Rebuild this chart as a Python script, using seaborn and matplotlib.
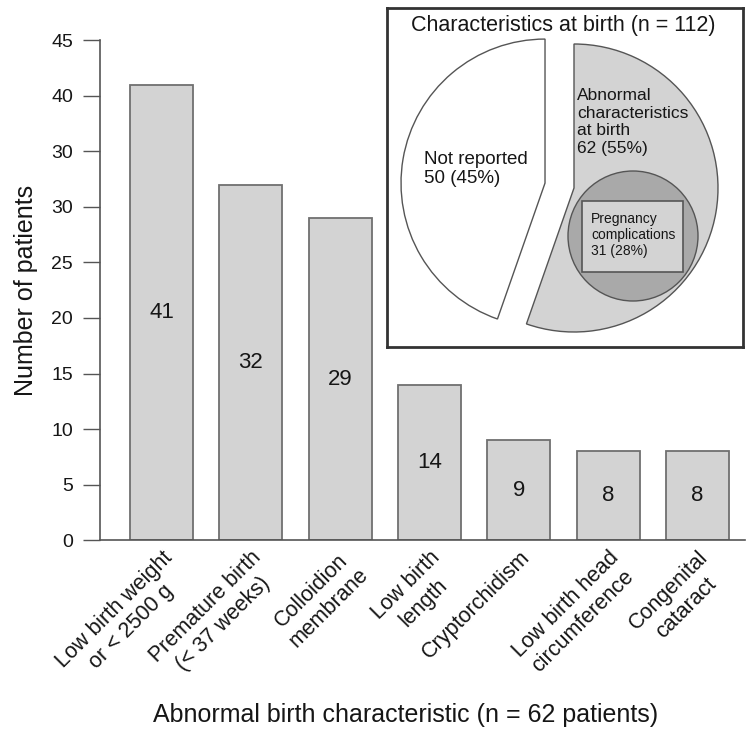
import matplotlib
matplotlib.use('Agg')
import matplotlib.pyplot as plt
import seaborn as sns
from matplotlib.patches import Circle, Rectangle

# bar chart data
categories = ['Low birth weight\nor < 2500 g', 'Premature birth\n(< 37 weeks)', 'Colloidion\nmembrane',
              'Low birth\nlength', 'Cryptorchidism', 'Low birth head\ncircumference', 'Congenital\ncataract']
counts = [41, 32, 29, 14, 9, 8, 8]
ytick_values = [0, 5, 10, 15, 20, 25, 30, 35, 40, 45]
ytick_labels = ['0', '5', '10', '15', '20', '25', '30', '30', '40', '45']  # as printed in the original

# inset pie data
pie_values = [62, 50]
pie_texts = ['Abnormal\ncharacteristics\nat birth\n62 (55%)', 'Not reported\n50 (45%)']
sub_text = 'Pregnancy\ncomplications\n31 (28%)'
inset_title = 'Characteristics at birth (n = 112)'

sns.set_theme(style='white')
plt.rcParams['font.family'] = ['Liberation Sans', 'DejaVu Sans']
plt.rcParams['text.color'] = '#161616'
plt.rcParams['xtick.color'] = '#161616'
plt.rcParams['ytick.color'] = '#161616'
plt.rcParams['axes.labelcolor'] = '#161616'

fig = plt.figure(figsize=(7.47, 7.31), dpi=100)
ax = fig.add_axes([0.134, 0.261, 0.863, 0.684])

sns.barplot(x=categories, y=counts, color='#d3d3d3', saturation=1, edgecolor='#707070',
            linewidth=1.3, width=0.705, ax=ax)
ax.set_xlim(-0.688, 6.527)
ax.set_ylim(0, 45)
ax.set_yticks(ytick_values)
ax.set_yticklabels(ytick_labels)
ax.tick_params(axis='y', direction='out', length=12.5, width=1, color='#555555', pad=7, labelsize=14, left=True)
ax.tick_params(axis='x', length=0, pad=5, labelsize=15.5)
for lbl in ax.get_xticklabels():
    lbl.set_rotation(45)
    lbl.set_ha('right')
    lbl.set_va('top')
    lbl.set_rotation_mode('anchor')
    lbl.set_multialignment('center')

sns.despine(ax=ax)
for s in ['left', 'bottom']:
    ax.spines[s].set_color('#555555')
    ax.spines[s].set_linewidth(1.2)

for i, v in enumerate(counts):
    ax.text(i, v / 2, str(v), ha='center', va='center', fontsize=16)

ax.set_ylabel('Number of patients', fontsize=18)
ax.yaxis.set_label_coords(-0.097, 0.5)
ax.set_xlabel('Abnormal birth characteristic (n = 62 patients)', fontsize=18)
ax.xaxis.set_label_coords(0.474, -0.326)
ax.xaxis.label.set_va('top')

# inset pie, coordinates in pixels of the inset box
ax2 = fig.add_axes([387 / 747, (731 - 347) / 731, 356 / 747, 339 / 731])
ax2.pie(pie_values, colors=['#d3d3d3', 'white'], startangle=90, counterclock=False,
        explode=[0, 29.4], center=(187, 159), radius=144, frame=True,
        wedgeprops=dict(edgecolor='#555555', linewidth=1))
ax2.set_aspect('auto')
ax2.set_xlim(0, 356)
ax2.set_ylim(0, 339)
ax2.set_xticks([])
ax2.set_yticks([])
for s in ax2.spines.values():
    s.set_visible(True)
    s.set_color('#333333')
    s.set_linewidth(2)

ax2.add_patch(Circle((246, 111), 65, fc='#a9a9a9', ec='#555555', lw=1, zorder=3))
ax2.add_patch(Rectangle((195, 75), 101, 71, fc='#d3d3d3', ec='#555555', lw=1.2, zorder=4))

ax2.text(176, 322, inset_title, ha='center', va='center', fontsize=15.5)
ax2.text(190, 225, pie_texts[0], ha='left', va='center', fontsize=12.5, zorder=5)
ax2.text(37, 178, pie_texts[1], ha='left', va='center', fontsize=13.5, zorder=5)
ax2.text(204, 112, sub_text, ha='left', va='center', fontsize=10, zorder=5)

fig.savefig('out.png', dpi=100)
